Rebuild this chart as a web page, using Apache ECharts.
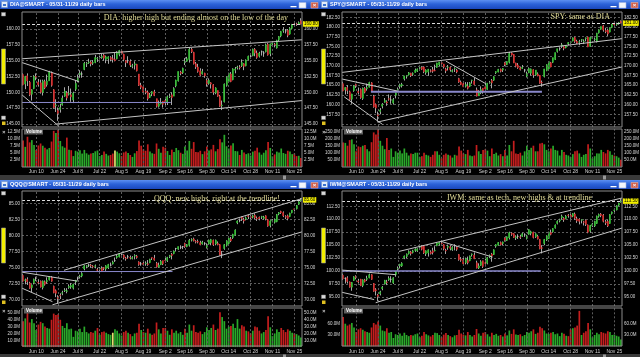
<!DOCTYPE html>
<html><head><meta charset="utf-8">
<script src="https://cdn.jsdelivr.net/npm/echarts@6/dist/echarts.min.js"></script>
<style>html,body{margin:0;padding:0;background:#000}#c{width:640px;height:357px}</style>
</head><body><div id="c"></div>
<script>
// ---------- categories / ticks ----------
const dates = ['May 31','Jun 3','Jun 4','Jun 5','Jun 6','Jun 7','Jun 10','Jun 11','Jun 12','Jun 13','Jun 14','Jun 17','Jun 18','Jun 19','Jun 20','Jun 21','Jun 24','Jun 25','Jun 26','Jun 27','Jun 28',
'Jul 1','Jul 2','Jul 3','Jul 5','Jul 8','Jul 9','Jul 10','Jul 11','Jul 12','Jul 15','Jul 16','Jul 17','Jul 18','Jul 19','Jul 22','Jul 23','Jul 24','Jul 25','Jul 26','Jul 29','Jul 30','Jul 31',
'Aug 1','Aug 2','Aug 5','Aug 6','Aug 7','Aug 8','Aug 9','Aug 12','Aug 13','Aug 14','Aug 15','Aug 16','Aug 19','Aug 20','Aug 21','Aug 22','Aug 23','Aug 26','Aug 27','Aug 28','Aug 29','Aug 30',
'Sep 3','Sep 4','Sep 5','Sep 6','Sep 9','Sep 10','Sep 11','Sep 12','Sep 13','Sep 16','Sep 17','Sep 18','Sep 19','Sep 20','Sep 23','Sep 24','Sep 25','Sep 26','Sep 27','Sep 30',
'Oct 1','Oct 2','Oct 3','Oct 4','Oct 7','Oct 8','Oct 9','Oct 10','Oct 11','Oct 14','Oct 15','Oct 16','Oct 17','Oct 18','Oct 21','Oct 22','Oct 23','Oct 24','Oct 25','Oct 28','Oct 29','Oct 30','Oct 31',
'Nov 1','Nov 4','Nov 5','Nov 6','Nov 7','Nov 8','Nov 11','Nov 12','Nov 13','Nov 14','Nov 15','Nov 18','Nov 19','Nov 20','Nov 21','Nov 22','Nov 25','Nov 26','Nov 27','Nov 29'];
const tickIdx = [6,16,25,35,45,55,65,74,84,94,104,114,124];
const tickLabels = ['Jun 10','Jun 24','Jul 8','Jul 22','Aug 5','Aug 19','Sep 2','Sep 16','Sep 30','Oct 14','Oct 28','Nov 11','Nov 25'];

const diaTicks = [145,147.5,150,152.5,155,157.5,160];
const spyTicks = [157.5,160,162.5,165,167.5,170,172.5,175,177.5,180,182.5];
const qqqTicks = [70,72.5,75,77.5,80,82.5,85];
const iwmTicks = [95,97.5,100,102.5,105,107.5,110,112.5];
const diaVolTicks = [2.5,5,7.5,10,12.5];
const spyVolTicks = [50,100,150,200,250];
const qqqVolTicks = [10,20,30,40,50];
const iwmVolTicks = [30,60];

// ---------- OHLC: [open, close, low, high] ----------
const diaOHLC = [
[152.8,151.2,151.1,153.0],[151.3,152.5,150.5,152.6],[152.6,151.8,151.0,153.0],[151.6,149.6,149.4,151.8],[149.7,150.4,148.7,150.5],[150.6,152.5,150.5,152.7],
[152.5,152.4,151.9,153.0],[151.6,151.2,150.9,152.1],[151.5,150.0,149.8,152.0],[150.0,151.8,149.5,152.0],[151.7,150.7,150.5,152.0],
[151.2,151.8,150.9,152.8],[151.8,153.2,151.8,153.4],[153.1,151.1,150.9,153.3],[150.4,147.6,147.4,150.5],[147.9,148.0,146.9,148.9],
[147.2,146.6,145.5,147.6],[147.3,147.6,146.8,148.2],[148.0,149.1,147.9,149.5],[149.4,150.2,149.3,150.8],[149.9,149.1,148.7,150.2],
[149.7,149.8,149.5,151.0],[149.6,149.3,148.5,150.6],[148.8,149.9,148.3,150.1],[150.5,151.4,150.2,151.9],
[151.8,152.3,151.6,152.8],[152.8,153.0,152.3,153.5],[152.9,152.9,152.3,153.3],[153.6,154.6,153.5,154.8],[154.5,154.6,154.0,154.8],
[154.7,154.8,154.5,155.3],[154.8,154.5,154.1,155.0],[154.6,154.7,154.3,155.1],[154.7,155.5,154.6,155.9],[155.3,155.4,154.8,155.6],
[155.5,155.5,155.2,155.8],[155.5,155.7,155.3,156.1],[155.9,155.4,155.0,156.1],[155.2,155.6,154.6,155.8],[155.3,155.6,154.5,155.7],
[155.5,155.2,154.9,155.7],[155.3,155.2,154.7,155.9],[155.2,155.0,154.9,156.3],[155.3,156.3,155.2,156.5],[156.0,156.6,155.7,156.7],
[156.5,156.1,155.9,156.6],[156.0,155.2,154.9,156.1],[155.0,154.7,154.0,155.1],[155.0,155.0,154.6,155.7],[154.9,154.3,154.0,155.2],
[154.1,154.2,153.8,154.5],[154.3,154.5,153.6,154.9],[154.4,153.4,153.3,154.5],[152.9,151.1,151.0,152.9],[151.1,150.8,150.5,151.5],
[150.9,150.1,150.0,151.2],[150.2,150.0,149.7,150.7],[150.0,149.0,148.7,150.3],[149.2,149.6,149.1,149.9],[149.8,150.1,149.4,150.2],
[150.1,149.5,149.4,150.4],[149.0,147.8,147.6,149.0],[147.8,148.2,147.6,148.7],[148.2,148.4,148.1,149.1],[148.6,148.1,147.6,148.6],
[148.7,148.3,147.8,149.3],[148.4,149.3,148.0,149.5],[149.3,149.4,149.1,149.8],[149.6,149.2,148.0,150.0],
[149.4,150.6,149.4,150.8],[151.0,151.9,150.8,152.0],[151.8,153.3,151.7,153.3],[153.2,153.0,152.7,153.4],[153.1,153.8,152.9,153.9],
[154.7,154.9,154.3,155.4],[154.9,155.3,154.8,155.6],[155.2,156.8,154.7,157.1],[156.8,156.4,156.2,157.0],[156.3,154.5,154.4,156.4],
[154.5,154.0,153.7,154.8],[154.0,153.3,153.1,154.5],[153.4,152.7,152.5,153.8],[152.9,153.3,152.8,153.7],[153.0,152.6,152.3,153.1],
[151.9,151.3,150.9,152.2],[151.4,151.9,151.2,152.2],[151.5,151.3,150.6,151.6],[151.2,150.0,149.6,151.3],[149.9,150.7,149.7,150.8],
[150.3,149.4,149.3,150.3],[149.4,147.8,147.7,149.6],[147.9,148.0,147.2,148.7],[148.5,151.3,148.4,151.4],[151.1,152.4,150.9,152.5],
[151.7,153.0,151.5,153.1],[152.9,151.7,151.6,153.2],[152.0,153.7,151.9,153.8],[153.5,153.7,153.0,154.0],[153.9,154.0,153.6,154.2],
[154.0,153.9,153.6,154.3],[154.2,154.7,154.0,155.2],[154.5,154.1,153.5,154.6],[154.2,155.1,154.1,155.2],[155.2,155.7,155.0,155.8],
[155.7,155.7,155.3,156.0],[155.8,156.8,155.7,156.9],[156.8,156.2,155.7,157.0],[156.2,155.5,155.3,156.6],[155.7,156.2,155.5,156.4],
[156.4,156.4,155.8,156.6],[156.2,156.2,155.6,156.5],[156.4,157.5,156.3,157.7],[157.6,155.9,155.8,157.8],[156.1,157.6,155.7,157.7],
[157.6,157.8,157.4,158.0],[157.6,157.5,157.1,157.8],[157.0,158.2,156.9,158.3],[158.3,158.8,158.1,158.9],[158.9,159.6,158.7,159.7],
[159.7,159.8,159.4,160.3],[159.7,159.7,159.3,160.0],[159.8,159.0,158.7,160.0],[159.2,160.1,159.1,160.3],[160.1,160.7,160.0,160.8],
[160.8,160.7,160.4,161.0],[160.8,160.7,160.5,161.0],[160.8,161.0,160.7,161.2],[161.3,160.8,160.7,161.7]];

const spyOHLC = [
[165.4,163.5,163.4,165.9],[163.8,164.4,162.6,164.5],[164.4,163.6,162.7,165.0],[163.3,161.3,161.2,163.6],[161.4,162.7,160.2,162.8],[163.6,164.8,163.3,165.0],
[165.2,164.8,164.3,165.4],[163.4,163.1,162.6,164.4],[163.9,161.8,161.5,164.2],[161.6,164.2,161.2,164.4],[164.2,163.2,162.9,164.5],
[164.1,164.4,163.6,165.4],[164.5,165.7,164.4,165.9],[165.6,163.5,163.3,165.8],[162.2,159.4,159.2,162.5],[160.0,159.1,157.8,160.3],
[157.4,157.1,155.6,158.2],[158.2,158.6,157.5,159.1],[159.6,160.1,159.0,160.4],[160.6,161.1,160.5,161.7],[160.7,160.4,159.7,161.1],
[161.5,161.4,161.0,162.6],[161.2,161.2,160.2,162.2],[160.4,161.3,160.0,161.7],[162.4,163.0,161.6,163.1],
[163.8,164.0,163.6,164.4],[164.7,165.1,164.1,165.4],[164.9,165.2,164.4,165.6],[166.6,167.4,166.2,167.4],[167.3,167.5,166.7,167.6],
[167.7,168.2,167.5,168.4],[168.1,167.5,167.1,168.2],[167.8,168.0,167.4,168.3],[168.3,168.9,168.2,169.3],[168.6,169.2,168.4,169.3],
[169.4,169.5,169.0,169.8],[169.6,169.1,168.9,169.9],[169.7,168.5,168.1,169.8],[168.2,168.9,167.7,169.1],[168.4,169.1,167.4,169.2],
[168.7,168.6,168.3,169.1],[169.0,168.6,168.2,169.7],[168.8,168.7,168.6,170.3],[169.6,170.7,169.5,170.8],[170.2,171.0,169.9,171.0],
[170.8,170.6,170.3,170.9],[170.4,169.7,169.3,170.5],[169.2,168.7,168.1,169.5],[169.6,169.7,168.8,170.2],[169.6,169.0,168.5,169.8],
[168.5,168.8,168.3,169.1],[169.2,169.3,168.4,169.6],[168.9,168.4,168.1,169.2],[166.7,165.8,165.6,166.9],[165.8,165.2,165.0,166.2],
[165.4,164.6,164.5,165.7],[164.7,165.2,164.4,165.8],[164.8,164.2,163.9,165.8],[164.7,165.6,164.5,165.8],[166.2,166.3,165.4,166.4],
[166.1,165.2,165.1,166.9],[163.8,162.2,162.1,164.4],[162.3,163.1,162.2,163.7],[163.0,163.9,162.7,164.7],[164.2,163.3,162.8,164.3],
[164.6,164.0,163.3,165.5],[163.9,165.5,163.8,165.6],[165.6,165.7,165.4,166.1],[166.2,165.6,164.2,166.6],
[166.3,167.2,166.1,167.3],[168.2,168.5,167.9,168.6],[168.4,169.1,168.3,169.2],[169.1,168.6,168.3,169.3],[168.9,169.3,168.4,169.4],
[170.8,170.3,169.9,171.0],[170.3,171.1,170.2,171.2],[170.9,173.2,170.6,173.6],[173.3,172.8,172.6,173.5],[172.9,170.7,170.7,173.0],
[170.7,169.9,169.6,170.8],[170.2,169.5,169.2,170.7],[169.5,169.0,168.8,169.8],[169.3,169.6,169.2,170.2],[168.9,168.9,168.3,169.2],
[167.3,168.0,167.0,168.5],[168.2,169.3,168.1,169.6],[168.1,169.2,167.5,169.3],[169.0,167.6,166.9,169.1],[167.6,168.9,167.4,168.9],
[167.9,167.4,167.3,168.3],[167.5,165.5,165.4,167.6],[165.7,165.6,164.6,166.2],[167.2,169.2,167.0,169.2],[168.8,170.3,168.6,170.4],
[169.2,171.1,169.1,171.1],[170.8,169.7,169.6,171.0],[170.9,172.1,170.7,172.1],[171.6,173.4,171.5,173.4],[173.7,174.4,173.4,174.4],
[174.4,174.4,173.9,174.8],[175.1,175.4,174.6,175.9],[174.9,174.5,174.0,175.1],[174.7,175.2,174.5,175.3],[175.6,176.0,175.3,176.1],
[176.0,176.2,175.7,176.4],[176.4,177.2,176.3,177.3],[177.3,176.3,175.9,177.5],[176.3,175.8,175.6,176.7],[176.1,176.2,175.3,176.7],
[176.6,176.8,176.1,176.9],[176.2,176.3,175.6,176.8],[177.0,177.2,176.3,177.3],[177.4,174.9,174.8,177.5],[175.0,177.3,174.9,177.4],
[177.1,177.3,176.9,177.6],[176.8,176.9,176.3,177.3],[176.2,178.4,176.0,178.5],[178.5,179.3,178.3,179.4],[179.4,180.1,179.3,180.1],
[180.3,179.2,178.8,180.5],[179.1,178.8,178.4,179.8],[179.2,178.2,177.7,179.6],[178.7,179.8,178.6,179.9],[179.9,180.7,179.7,180.8],
[181.0,180.6,180.3,181.0],[180.6,180.7,180.3,181.1],[180.9,181.1,180.6,181.3],[181.5,181.0,180.9,181.7]];

const qqqOHLC = [
[73.8,72.9,72.8,74.0],[73.0,73.1,72.4,73.3],[73.2,72.8,72.3,73.5],[72.6,71.8,71.7,72.8],[71.9,72.3,71.2,72.4],[72.6,73.2,72.4,73.3],
[73.3,73.3,72.9,73.6],[72.7,72.6,72.4,73.2],[72.9,72.0,71.9,73.0],[71.9,72.9,71.6,73.0],[72.8,72.4,72.2,73.0],
[72.8,73.0,72.5,73.5],[73.1,73.6,73.0,73.7],[73.5,72.9,72.8,73.7],[72.1,71.1,71.0,72.2],[71.4,71.0,70.4,71.6],
[70.4,70.2,69.4,70.7],[70.7,70.6,70.1,71.0],[71.0,71.1,70.7,71.4],[71.4,71.5,71.2,71.8],[71.3,71.4,71.0,71.8],
[71.9,72.1,71.7,72.4],[72.0,72.2,71.7,72.6],[71.8,72.4,71.6,72.5],[72.8,73.0,72.3,73.1],
[73.3,73.3,73.0,73.6],[73.6,73.7,73.3,73.9],[73.7,74.1,73.5,74.3],[74.8,75.3,74.6,75.4],[75.2,75.3,74.9,75.4],
[75.4,75.4,75.1,75.6],[75.4,75.3,75.0,75.6],[75.2,75.1,74.9,75.4],[75.2,75.3,74.9,75.5],[74.7,74.6,74.4,75.0],
[74.8,74.9,74.5,75.1],[74.9,74.5,74.4,75.2],[75.0,74.9,74.6,75.1],[74.8,75.3,74.5,75.4],[75.0,75.5,74.8,75.6],
[75.4,75.4,75.2,75.8],[75.6,75.9,75.5,76.1],[76.1,76.1,75.9,76.6],[76.6,76.8,76.4,77.0],[76.7,77.2,76.6,77.2],
[77.1,77.1,76.9,77.3],[77.0,76.6,76.3,77.1],[76.5,76.4,76.1,76.7],[76.7,76.7,76.4,77.0],[76.6,76.5,76.3,76.9],
[76.4,76.6,76.3,76.8],[76.8,76.9,76.3,77.1],[76.8,76.6,76.4,77.0],[75.9,75.5,75.3,76.0],[75.6,75.6,75.3,75.9],
[75.7,75.5,75.4,76.1],[75.6,75.7,75.3,76.0],[75.6,75.5,75.3,76.2],[75.8,76.3,75.7,76.4],[76.6,76.5,76.2,76.6],
[76.5,76.2,76.1,77.0],[75.7,75.1,75.0,75.9],[75.1,75.4,75.0,75.8],[75.5,76.0,75.4,76.2],[76.1,75.6,75.4,76.1],
[76.2,76.1,75.8,76.6],[76.1,76.6,75.9,76.7],[76.7,76.9,76.5,77.0],[77.1,76.9,76.3,77.3],
[77.2,77.6,77.1,77.7],[78.0,78.0,77.6,78.1],[77.9,78.3,77.8,78.3],[78.2,78.2,77.9,78.5],[78.3,78.3,77.9,78.4],
[78.8,78.3,78.1,78.9],[78.3,78.6,78.2,78.7],[78.5,79.3,78.3,79.5],[79.3,79.4,79.1,79.6],[79.5,79.2,79.1,79.7],
[79.1,79.0,78.8,79.3],[79.1,79.0,78.8,79.4],[78.9,78.6,78.5,79.2],[78.7,79.0,78.6,79.2],[78.8,78.8,78.5,79.0],
[78.2,78.5,78.0,78.8],[78.7,79.3,78.6,79.4],[78.9,79.4,78.5,79.5],[79.3,78.6,78.4,79.4],[78.7,79.3,78.5,79.4],
[78.8,78.6,78.5,79.1],[78.6,77.0,76.9,78.7],[77.1,77.1,76.5,77.6],[78.0,78.6,77.8,78.7],[78.5,79.2,78.3,79.3],
[78.8,79.6,78.7,79.7],[79.5,79.2,79.0,79.8],[79.7,80.2,79.5,80.3],[80.1,80.9,80.0,81.0],[82.0,82.3,81.8,82.4],
[82.4,82.4,82.1,82.7],[82.9,82.7,82.3,83.0],[82.5,82.3,81.9,82.8],[82.6,82.8,82.4,83.0],[83.1,83.0,82.6,83.3],
[83.0,82.8,82.6,83.2],[82.9,83.1,82.7,83.3],[83.2,82.8,82.6,83.5],[82.7,82.6,82.3,83.0],[82.9,82.7,82.4,83.0],
[82.9,83.0,82.6,83.1],[82.7,82.9,82.5,83.1],[83.1,82.6,82.4,83.2],[82.5,81.5,81.4,82.6],[81.6,82.3,81.3,82.4],
[82.3,82.4,82.1,82.6],[82.1,82.5,81.9,82.7],[82.2,83.3,82.1,83.4],[83.4,83.6,83.2,83.7],[83.8,83.6,83.4,83.9],
[83.6,83.1,82.9,83.8],[83.0,82.9,82.6,83.2],[83.1,82.7,82.4,83.3],[83.0,83.5,82.9,83.6],[83.6,84.0,83.5,84.0],
[84.2,84.1,83.8,84.3],[84.2,84.7,84.1,84.8],[84.9,85.3,84.8,85.4],[85.5,85.6,85.3,85.9]];

const iwmOHLC = [
[99.2,98.5,98.3,99.5],[98.6,98.6,97.6,98.8],[98.7,98.0,97.6,99.0],[97.9,96.9,96.8,98.0],[96.9,97.8,96.2,97.9],[98.2,98.9,98.1,99.0],
[99.0,98.7,98.4,99.2],[98.1,97.9,97.6,98.5],[98.4,97.2,97.1,98.5],[97.2,98.3,96.9,98.4],[98.3,98.0,97.8,98.5],
[98.4,98.6,98.1,99.1],[98.7,99.3,98.6,99.5],[99.3,98.4,98.3,99.4],[97.6,96.1,96.0,97.7],[96.4,96.2,95.3,96.7],
[95.4,95.0,94.2,95.6],[95.6,96.0,95.3,96.2],[96.6,96.9,96.3,97.1],[97.5,98.2,97.4,98.3],[97.9,97.8,97.3,98.3],
[98.3,98.6,98.1,99.0],[98.4,98.4,97.8,99.0],[97.7,98.7,97.5,98.8],[99.3,99.9,98.9,100.0],
[100.4,100.6,100.1,100.9],[101.0,101.3,100.5,101.4],[101.0,101.5,100.8,101.7],[102.5,102.9,102.3,103.0],[102.8,103.3,102.5,103.4],
[103.4,103.8,103.2,104.0],[103.7,103.4,103.0,103.9],[103.6,103.9,103.4,104.1],[104.0,104.2,103.7,104.4],[103.9,104.3,103.7,104.4],
[104.6,104.7,104.3,105.0],[104.8,104.2,104.0,105.0],[104.8,103.5,103.3,104.9],[103.3,103.9,102.9,104.0],[103.5,104.1,102.8,104.2],
[103.7,103.4,103.2,104.0],[103.9,103.6,103.2,104.5],[103.9,104.0,103.8,104.8],[104.9,105.4,104.8,105.5],[105.2,105.5,104.9,105.6],
[105.4,105.3,105.0,105.6],[105.1,104.3,104.0,105.2],[104.0,103.9,103.3,104.3],[104.6,104.8,104.1,105.1],[104.7,104.4,104.0,105.0],
[104.1,104.6,103.9,104.8],[104.9,104.9,104.0,105.2],[104.6,104.2,103.9,104.8],[103.2,102.2,102.0,103.3],[102.3,102.1,101.8,102.7],
[102.2,101.4,101.3,102.6],[101.6,102.4,101.3,102.6],[102.1,101.6,101.3,102.8],[102.0,102.9,101.9,103.0],[103.2,103.3,102.8,103.4],
[103.1,102.4,102.3,103.6],[101.6,100.6,100.5,102.0],[100.6,101.0,100.4,101.5],[101.1,101.8,101.0,102.1],[102.0,100.9,100.6,102.0],
[101.6,101.5,100.9,102.4],[101.5,102.6,101.3,102.7],[102.7,103.0,102.5,103.2],[103.3,102.9,101.8,103.5],
[103.2,104.1,103.1,104.2],[104.8,105.1,104.5,105.2],[105.0,105.5,104.9,105.6],[105.5,105.1,104.9,105.7],[105.3,105.6,105.0,105.7],
[106.4,105.9,105.7,106.5],[105.9,106.6,105.8,106.7],[106.4,107.4,106.1,107.6],[107.3,107.1,106.8,107.5],[107.2,106.5,106.4,107.3],
[106.4,106.6,106.0,106.9],[106.7,106.7,106.2,107.1],[106.6,106.5,106.2,107.0],[106.7,107.2,106.6,107.4],[107.0,107.0,106.6,107.3],
[106.3,106.8,106.1,107.0],[107.1,108.0,107.0,108.1],[107.3,107.6,106.9,107.8],[107.5,106.5,106.3,107.6],[106.6,107.2,106.4,107.3],
[106.7,106.2,106.1,107.0],[106.1,104.3,104.2,106.2],[104.5,104.4,103.4,105.0],[105.3,106.1,105.0,106.2],[106.0,106.8,105.8,106.9],
[106.3,107.5,106.2,107.6],[107.4,107.1,106.9,108.0],[107.6,108.2,107.4,108.3],[108.3,108.9,108.2,109.0],[109.2,109.6,109.0,109.8],
[109.7,109.9,109.4,110.1],[110.3,110.6,109.9,110.9],[110.2,109.9,109.5,110.4],[110.1,110.6,110.0,110.8],[110.8,110.7,110.3,111.0],
[110.8,110.4,110.1,111.0],[110.6,111.1,110.4,111.2],[111.0,110.2,109.9,111.3],[110.1,109.7,109.3,110.5],[110.0,109.6,109.0,110.2],
[109.8,109.9,109.2,110.0],[109.5,109.4,108.8,109.7],[109.8,109.0,108.7,110.0],[108.9,107.5,107.3,109.0],[107.7,108.8,107.4,108.9],
[108.7,109.1,108.5,109.3],[108.7,109.6,108.5,109.7],[109.2,110.6,109.1,110.7],[110.6,110.9,110.3,111.1],[111.0,110.7,110.4,111.2],
[110.8,109.6,109.4,111.0],[109.5,109.3,108.9,109.9],[109.6,108.7,108.5,109.9],[109.2,110.9,109.1,111.0],[111.1,111.4,110.9,111.5],
[111.7,111.8,111.4,112.1],[111.8,112.6,111.7,112.7],[112.7,113.1,112.5,113.2],[113.4,113.5,113.2,113.9]];

// ---------- volumes (millions) ----------
const diaVol = [9.5,7.2,10.8,8.8,9.6,7.9,6.1,7.7,8.4,7.6,6.9,6.3,6.8,9.1,12.9,12.1,13.2,9.3,7.4,6.9,10.5,6.2,6.0,3.9,5.8,
5.5,6.0,4.8,6.1,4.9,4.4,4.8,5.0,5.6,5.9,3.9,4.3,5.5,4.7,4.1,4.3,4.8,5.9,5.5,4.9,4.0,5.2,5.5,5.0,4.3,3.6,4.9,5.7,9.5,7.6,
6.3,5.8,8.1,5.5,4.9,4.7,8.4,6.5,5.1,7.2,6.9,5.7,4.3,6.2,5.4,6.8,6.0,5.1,4.7,7.3,5.9,9.3,6.5,8.9,5.4,5.3,5.8,4.6,5.6,
7.3,5.9,6.3,7.9,5.6,6.4,9.9,8.8,11.5,7.4,6.6,7.7,8.5,5.7,5.6,4.3,6.1,5.2,4.6,4.9,4.1,5.5,5.8,6.9,5.2,4.4,5.1,6.0,8.9,6.8,
3.8,4.5,5.5,5.2,6.6,5.0,4.7,5.8,5.5,4.6,4.8,3.9,4.0,3.2];
const spyVol = [172,170,150,190,195,160,110,145,140,150,155,125,110,175,245,230,265,185,150,125,205,120,130,70,110,
100,115,95,130,100,80,95,90,100,100,70,75,100,85,80,70,85,110,110,85,60,85,95,85,80,65,85,80,145,115,
95,90,120,80,75,80,155,110,90,120,125,115,75,130,90,100,80,90,75,120,80,155,110,185,95,90,100,80,110,
150,120,135,150,110,110,165,170,160,120,110,130,150,120,115,80,120,105,85,80,70,90,110,115,95,70,85,90,160,130,
60,75,95,95,120,105,95,120,110,85,80,75,65,50];
const qqqVol = [38,42,50,36,41,35,25,33,37,35,30,28,27,40,49,47,48,40,31,28,35,26,27,15,24,
23,27,22,30,22,20,22,21,24,28,18,22,23,21,19,18,21,26,24,20,17,22,24,21,19,16,20,21,34,25,
22,21,27,20,18,20,36,26,20,28,28,24,18,26,21,24,20,22,18,27,21,33,24,32,22,21,23,19,22,
29,25,28,33,25,27,51,44,38,27,30,31,34,28,41,27,32,30,24,23,20,24,30,29,24,20,22,25,45,29,
16,20,26,22,28,25,22,26,24,21,20,19,17,14];
const iwmVol = [78,60,55,58,62,50,38,45,48,44,40,38,36,50,62,58,66,55,42,40,48,36,38,22,32,
30,34,28,36,30,27,30,29,32,34,24,28,38,32,29,26,30,36,35,30,24,31,35,30,27,24,29,30,44,34,
31,29,38,30,26,30,46,34,28,36,38,32,26,36,30,33,28,30,26,34,29,42,33,45,31,30,32,27,30,
38,36,40,45,33,36,52,48,42,34,33,36,38,32,34,27,36,33,28,27,45,48,50,55,94,30,36,40,62,45,
24,30,36,32,38,36,34,40,38,30,31,28,26,18];

// ---------- trendlines: [[index, price],[index, price]] ----------
const diaTrend = [[[-0.5,155.3],[127.5,158.3]],[[15.2,145.0],[127.5,148.7]],[[-0.5,154.7],[25.6,151.7]],[[-0.5,149.6],[16.2,144.7]]];
const diaLevel = [[[-0.5,148.4],[67.5,148.4]]];
const spyTrend = [[[-0.5,168.3],[127.5,177.0]],[[15.7,155.5],[127.5,169.7]],[[-0.5,166.6],[24.8,163.5]],[[0.5,162.0],[18.0,154.9]],[[47,171.2],[65.2,165.4]]];
const spyLevel = [[[12.7,163.3],[90.9,163.3]]];
const qqqTrend = [[[18.7,74.6],[127.5,85.8]],[[13.4,69.2],[127.5,80.6]],[[-0.5,74.3],[24.8,72.9]],[[-0.5,71.8],[13.4,69.7]]];
const qqqLevel = [[[-0.5,74.4],[68.3,74.4]]];
const iwmTrend = [[[25.6,103.8],[127.5,114.1]],[[14.9,93.9],[127.5,108.3]],[[-0.5,100.2],[24.1,99.3]],[[-0.5,95.9],[14.2,94.5]],[[44.7,105.75],[68.3,102.7]]];
const iwmLevel = [[[-0.5,100.0],[90.4,100.0]]];

// ---------- layout ----------
const panels = [
 {ohlc:diaOHLC, vol:diaVol, pt:diaTicks, vt:diaVolTicks, trend:diaTrend, level:diaLevel, hl:42,
  title:'DIA@SMART - 05/31-11/29 daily bars', note:'DIA: higher high but ending almost on the low of the day',
  ox:0, oy:0, tb:0, pMin:142.5, pMax:162.5, pTop:13.17, pH:126.67, vMax:15, vTop:125, vH:42, noteX:288, noteY:18.3, lw:1},
 {ohlc:spyOHLC, vol:spyVol, pt:spyTicks, vt:spyVolTicks, trend:spyTrend, level:spyLevel, hl:-1,
  title:'SPY@SMART - 05/31-11/29 daily bars', note:'SPY: same as DIA',
  ox:320, oy:0, tb:0, pMin:152.5, pMax:185, pTop:7.6, pH:126.1, vMax:300, vTop:124.7, vH:42, noteX:290, noteY:16.5, lw:2},
 {ohlc:qqqOHLC, vol:qqqVol, pt:qqqTicks, vt:qqqVolTicks, trend:qqqTrend, level:qqqLevel, hl:41,
  title:'QQQ@SMART - 05/31-11/29 daily bars', note:'QQQ: new highs, right at the trendline!',
  ox:0, oy:179, tb:1, pMin:67.5, pMax:87.5, pTop:8.7, pH:128, vMax:60, vTop:127.1, vH:41, noteX:280, noteY:19.5, lw:1},
 {ohlc:iwmOHLC, vol:iwmVol, pt:iwmTicks, vt:iwmVolTicks, trend:iwmTrend, level:iwmLevel, hl:-1,
  title:'IWM@SMART - 05/31-11/29 daily bars', note:'IWM: same as tech, new highs & at trendline',
  ox:320, oy:179, tb:1, pMin:92.5, pMax:115, pTop:14.34, pH:116.6, vMax:120, vTop:122.1, vH:45.2, noteX:272, noteY:19, lw:1.5}
];

const GREEN='#2cb82c', RED='#d42222', VG='#2aa82a', VR='#c41e1e', WICK='#a8a8a8', GRIDC='#5c5c5c';
const FONT='"Liberation Sans", Arial, sans-serif';
const grids=[], xAxes=[], yAxes=[], series=[], gfx=[];

panels.forEach((p, k) => {
  const X=p.ox, Y=p.oy;
  const gP=grids.length;
  grids.push({left:X+22, top:Y+p.pTop, width:280, height:p.pH, containLabel:false, outerBoundsMode:'none'});
  grids.push({left:X+22, top:Y+p.vTop, width:280, height:p.vH, containLabel:false, outerBoundsMode:'none'});
  const xc=xAxes.length;
  xAxes.push({type:'category', gridIndex:gP, data:dates, boundaryGap:true, axisLine:{show:false}, axisTick:{show:false}, axisLabel:{show:false}, splitLine:{show:false}});
  xAxes.push({type:'value', gridIndex:gP, min:-0.5, max:127.5, show:false});
  xAxes.push({type:'category', gridIndex:gP+1, data:dates, boundaryGap:true, axisLine:{show:false}, axisTick:{show:false}, splitLine:{show:false},
    axisLabel:{color:'#d0d0d0', fontSize:5, fontFamily:FONT, margin:2.5, interval:(i)=>tickIdx.includes(i),
      formatter:(v,i)=>{const j=tickIdx.indexOf(i); return j>=0?tickLabels[j]:'';}}});
  const lo=p.pt[0], hi=p.pt[p.pt.length-1], step=p.pt[1]-p.pt[0];
  const vlo=p.vt[0], vhi=p.vt[p.vt.length-1], vstep=p.vt[1]-p.vt[0];
  const pfmt=v=>(v>=lo-1e-6&&v<=hi+1e-6)?v.toFixed(2):'';
  const vfmt=v=>(v>=vlo-1e-6&&v<=vhi+1e-6)?v.toFixed(1)+'M':'';
  const yr=yAxes.length;
  const lbl={color:'#d8d8d8', fontSize:4.5, fontFamily:FONT, margin:2, showMinLabel:false, showMaxLabel:false};
  yAxes.push({type:'value', gridIndex:gP, position:'right', min:p.pMin, max:p.pMax, interval:step, axisLine:{show:false}, axisTick:{show:false},
    axisLabel:Object.assign({formatter:pfmt}, lbl),
    splitLine:{show:true, showMinLine:false, showMaxLine:false, lineStyle:{color:GRIDC, type:[2,2], width:1}}});
  yAxes.push({type:'value', gridIndex:gP, position:'left', min:p.pMin, max:p.pMax, interval:step, axisLine:{show:false}, axisTick:{show:false},
    axisLabel:Object.assign({formatter:pfmt}, lbl), splitLine:{show:false}});
  yAxes.push({type:'value', gridIndex:gP+1, position:'right', min:0, max:p.vMax, interval:vstep, axisLine:{show:false}, axisTick:{show:false},
    axisLabel:Object.assign({formatter:vfmt}, lbl), splitLine:{show:false}});
  yAxes.push({type:'value', gridIndex:gP+1, position:'left', min:0, max:p.vMax, interval:vstep, axisLine:{show:false}, axisTick:{show:false},
    axisLabel:Object.assign({formatter:vfmt}, lbl), splitLine:{show:false}});

  const kP=p.pH/(p.pMax-p.pMin);
  const visTop=Math.min(p.pMax, p.pMax+(p.pTop-12)/kP), visBot=p.pMax-(127-p.pTop)/kP;
  const kV=p.vH/p.vMax;
  const vTopVal=Math.min(p.vMax,(p.vTop+p.vH-129)/kV);
  const last=p.ohlc[p.ohlc.length-1][1];

  series.push({type:'candlestick', xAxisIndex:xc, yAxisIndex:yr, data:p.ohlc, barWidth:0.6, silent:true, z:3,
    itemStyle:{color:WICK, color0:WICK, borderColor:WICK, borderColor0:WICK, borderColorDoji:WICK, borderWidth:1},
    markLine:{symbol:['none','none'], silent:true, animation:false, label:{show:false},
      lineStyle:{color:GRIDC, type:[2,2], width:1},
      data:tickIdx.map(i=>[{coord:[i,visBot]},{coord:[i,visTop]}])}});
  series.push({type:'candlestick', xAxisIndex:xc, yAxisIndex:yr, silent:true, z:4, barWidth:1.5,
    data:p.ohlc.map(d=>[d[0],d[1],Math.min(d[0],d[1]),Math.max(d[0],d[1])]),
    itemStyle:{color:GREEN, color0:RED, borderColor:GREEN, borderColor0:RED, borderColorDoji:'#cfcfcf', borderWidth:0.6},
    markLine:{symbol:['none','none'], silent:true, animation:false,
      lineStyle:{color:'#dcdcdc', type:[3,2], width:1},
      label:{show:true, formatter:(q)=>Number(q.value).toFixed(2), backgroundColor:'#f2ee00', color:'#000', fontSize:4.5, fontFamily:FONT, padding:[0.5,1,0,1], distance:1},
      data:[{yAxis:last, label:{position:'end'}},{yAxis:last, lineStyle:{opacity:0}, label:{position:'start'}}]}});
  p.trend.forEach(seg=>series.push({type:'line', xAxisIndex:xc+1, yAxisIndex:yr, data:seg, symbol:'none', silent:true, z:6,
    lineStyle:{color:'#c4c4c4', width:1}}));
  p.level.forEach(seg=>series.push({type:'line', xAxisIndex:xc+1, yAxisIndex:yr, data:seg, symbol:'none', silent:true, z:5,
    lineStyle:{color:'#8a88cc', width:p.lw}}));
  series.push({type:'bar', xAxisIndex:xc+2, yAxisIndex:yr+2, barWidth:'78%', silent:true, z:4,
    data:p.vol.map((v,i)=>({value:v, itemStyle:{color: i===p.hl ? '#e6e070' : (p.ohlc[i][1]>=p.ohlc[i][0]?VG:VR)}})),
    markLine:{symbol:['none','none'], silent:true, animation:false, label:{show:false},
      lineStyle:{color:GRIDC, type:[2,2], width:1},
      data:tickIdx.map(i=>[{coord:[i,0]},{coord:[i,vTopVal]}])}});

  // ---------- window chrome ----------
  const T=Y+p.tb;
  gfx.push({type:'rect', silent:true, z:-1, shape:{x:X, y:T, width:320, height:9},
    style:{fill:new echarts.graphic.LinearGradient(0,0,0,1,[{offset:0,color:'#5d90f0'},{offset:0.45,color:'#2c63d8'},{offset:1,color:'#1a48bc'}])}});
  gfx.push({type:'rect', silent:true, shape:{x:X+1.5, y:T+1.5, width:6, height:6}, style:{fill:'#e4ecf8', stroke:'#7090c8', lineWidth:0.6}});
  gfx.push({type:'rect', silent:true, shape:{x:X+3, y:T+4, width:3, height:2}, style:{fill:'#3a70d0'}});
  gfx.push({type:'text', silent:true, x:X+10, y:T+4.7, style:{text:p.title, fill:'#ffffff', fontSize:5.5, fontWeight:'bold', fontFamily:FONT, verticalAlign:'middle'}});
  gfx.push({type:'rect', silent:true, shape:{x:X+290.5, y:T+6, width:6, height:1.3}, style:{fill:'#ffffff'}});
  gfx.push({type:'rect', silent:true, shape:{x:X+299, y:T+2.5, width:7, height:5.5}, style:{fill:'#f4f6fa', stroke:'#9fb4e0', lineWidth:0.6}});
  gfx.push({type:'rect', silent:true, shape:{x:X+311, y:T+2.5, width:7, height:5.5}, style:{fill:'#d0604c', stroke:'#e8b0a0', lineWidth:0.6}});
  gfx.push({type:'text', silent:true, x:X+314.5, y:T+5.4, style:{text:'×', fill:'#ffffff', fontSize:6, fontWeight:'bold', fontFamily:FONT, align:'center', verticalAlign:'middle'}});
  gfx.push({type:'rect', silent:true, shape:{x:X+1.5, y:Y+12.5, width:4, height:3.5}, style:{fill:'#d8d8d8', stroke:'#888', lineWidth:0.5}});
  gfx.push({type:'rect', silent:true, shape:{x:X+1.5, y:Y+49, width:4, height:35}, style:{fill:'#f2ee00', stroke:'#9a9a9a', lineWidth:0.6}});
  gfx.push({type:'rect', silent:true, shape:{x:X+1.5, y:Y+116, width:4, height:3.5}, style:{fill:'#d8d8d8', stroke:'#888', lineWidth:0.5}});
  gfx.push({type:'rect', silent:true, shape:{x:X+2, y:Y+121.5, width:3.5, height:3.5}, style:{fill:'#e0c020'}});
  gfx.push({type:'text', silent:true, x:X+3.8, y:Y+132.3, style:{text:'×', fill:'#cfcfcf', fontSize:5.5, fontWeight:'bold', fontFamily:FONT, align:'center', verticalAlign:'middle'}});
  gfx.push({type:'rect', silent:true, z:10, shape:{x:X+22, y:Y+12, width:280, height:115}, style:{fill:null, stroke:'#8c8c8c', lineWidth:1}});
  gfx.push({type:'rect', silent:true, z:10, shape:{x:X+22, y:Y+129, width:280, height:38}, style:{fill:null, stroke:'#8c8c8c', lineWidth:1}});
  gfx.push({type:'rect', silent:true, z:11, shape:{x:X+24, y:Y+129.5, width:19, height:5}, style:{fill:'#5e5e5e'}});
  gfx.push({type:'text', silent:true, z:12, x:X+26, y:Y+132.2, style:{text:'Volume', fill:'#ffffff', fontSize:4.5, fontWeight:'bold', fontFamily:FONT, verticalAlign:'middle'}});
  gfx.push({type:'text', silent:true, z:12, x:X+p.noteX, y:Y+p.noteY, style:{text:p.note, fill:'#e2dc98', fontSize:8, fontFamily:'"Liberation Serif", "Times New Roman", serif', align:'right', verticalAlign:'middle'}});
  gfx.push({type:'rect', silent:true, shape:{x:X, y:Y+175, width:320, height:5}, style:{fill:'#3a3a3a'}});
  gfx.push({type:'rect', silent:true, shape:{x:X+283, y:Y+175.5, width:3, height:4}, style:{fill:'#9a9a9a'}});
});

const chart = echarts.init(document.getElementById('c'), null, {renderer:'canvas'});
chart.setOption({
  backgroundColor:'#000', animation:false,
  grid:grids, xAxis:xAxes, yAxis:yAxes, series:series,
  graphic:{elements:gfx}
});
</script></body></html>
